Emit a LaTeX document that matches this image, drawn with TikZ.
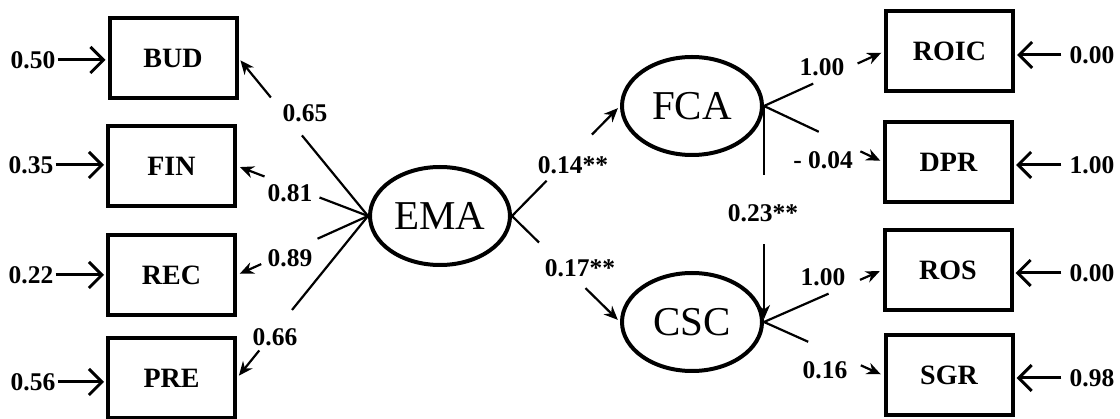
\documentclass[tikz,border=0pt]{standalone}
\usepackage{fontspec}
\setmainfont{Liberation Serif}
\usetikzlibrary{arrows.meta,calc,shapes.geometric}
\begin{document}
\begin{tikzpicture}[x=1pt,y=-1pt,
  obs/.style={draw,line width=4pt,minimum width=127pt,minimum height=80pt,inner sep=0pt,
    font=\fontsize{28}{30}\selectfont\bfseries},
  lat/.style={draw,ellipse,line width=4pt,minimum width=140pt,minimum height=98pt,inner sep=0pt,
    font=\fontsize{41}{43}\selectfont},
  num/.style={inner sep=2pt,font=\fontsize{25.5}{27}\selectfont\bfseries},
  conn/.style={line width=2.2pt},
  connarr/.style={line width=2.2pt,-{Stealth[length=14pt,width=12pt]},shorten >=3pt},
  ext/.style={line width=3pt,-{Straight Barb[length=13pt,width=26pt,line width=3pt]},shorten >=2pt}
]
\useasboundingbox (0,0) rectangle (1120,419);
% observed (left)
\node[obs] (BUD) at (173,58) {BUD};
\node[obs] (FIN) at (171.5,166) {FIN};
\node[obs] (REC) at (171.5,275) {REC};
\node[obs] (PRE) at (171.5,378) {PRE};
% observed (right)
\node[obs] (ROIC) at (949.5,51.5) {ROIC};
\node[obs] (DPR) at (948.5,162) {DPR};
\node[obs] (ROS) at (948,270) {ROS};
\node[obs] (SGR) at (949,375.5) {SGR};
% latent
\node[lat] (EMA) at (440,216) {EMA};
\node[lat] (FCA) at (692,106) {FCA};
\node[lat] (CSC) at (692,322) {CSC};
% error terms left
\node[num] (e1) at (33,60) {0.50};
\node[num] (e2) at (31,165) {0.35};
\node[num] (e3) at (31,275) {0.22};
\node[num] (e4) at (33,382) {0.56};
\draw[ext] (e1.east) -- (e1.east -| BUD.west);
\draw[ext] (e2.east) -- (e2.east -| FIN.west);
\draw[ext] (e3.east) -- (e3.east -| REC.west);
\draw[ext] (e4.east) -- (e4.east -| PRE.west);
% error terms right
\node[num] (r1) at (1092,55) {0.00};
\node[num] (r2) at (1092,165) {1.00};
\node[num] (r3) at (1092,273) {0.00};
\node[num] (r4) at (1092,378) {0.98};
\draw[ext,shorten <=6pt] (r1.west) -- (r1.west -| ROIC.east);
\draw[ext,shorten <=6pt] (r2.west) -- (r2.west -| DPR.east);
\draw[ext,shorten <=6pt] (r3.west) -- (r3.west -| ROS.east);
\draw[ext,shorten <=6pt] (r4.west) -- (r4.west -| SGR.east);
% loadings EMA
\draw[conn] (EMA.west) -- ($(EMA.west)!0.51!(BUD.east)$);
\draw[connarr] ($(EMA.west)!0.75!(BUD.east)$) -- (BUD.east);
\node[num] (l1) at (305,113) {0.65};
\draw[conn] (EMA.west) -- ($(EMA.west)!0.37!(FIN.east)$);
\draw[connarr] ($(EMA.west)!0.79!(FIN.east)$) -- (FIN.east);
\node[num] (l2) at (290,193) {0.81};
\draw[conn] (EMA.west) -- ($(EMA.west)!0.385!(REC.east)$);
\draw[connarr] ($(EMA.west)!0.815!(REC.east)$) -- (REC.east);
\node[num] (l3) at (290,258) {0.89};
\draw[conn] (EMA.west) -- ($(EMA.west)!0.58!(PRE.east)$);
\draw[connarr] ($(EMA.west)!0.83!(PRE.east)$) -- (PRE.east);
\node[num] (l4) at (275,337) {0.66};
% structural paths
\draw[conn] (EMA.east) -- ($(EMA.east)!0.32!(FCA.west)$);
\draw[connarr] ($(EMA.east)!0.74!(FCA.west)$) -- (FCA.west);
\node[num] (p1) at (573,165) {0.14**};
\draw[conn] (EMA.east) -- ($(EMA.east)!0.25!(CSC.west)$);
\draw[connarr] ($(EMA.east)!0.68!(CSC.west)$) -- (CSC.west);
\node[num] (p2) at (580,268) {0.17**};
\draw[conn] (FCA.east) -- ($(FCA.east)!0.32!(CSC.east)$);
\draw[connarr] ($(FCA.east)!0.64!(CSC.east)$) -- (CSC.east);
\node[num] (p3) at (763,213) {0.23**};
% loadings FCA / CSC
\draw[conn] (FCA.east) -- ($(FCA.east)!0.41!(ROIC.west)$);
\draw[connarr] ($(FCA.east)!0.78!(ROIC.west)$) -- (ROIC.west);
\node[num] (m1) at (822,67) {1.00};
\draw[conn] (FCA.east) -- ($(FCA.east)!0.46!(DPR.west)$);
\draw[connarr] ($(FCA.east)!0.81!(DPR.west)$) -- (DPR.west);
\node[num] (m2) at (823,160) {- 0.04};
\draw[conn] (CSC.east) -- ($(CSC.east)!0.545!(ROS.west)$);
\draw[connarr] ($(CSC.east)!0.81!(ROS.west)$) -- (ROS.west);
\node[num] (m3) at (823,277) {1.00};
\draw[conn] (CSC.east) -- ($(CSC.east)!0.37!(SGR.west)$);
\draw[connarr] ($(CSC.east)!0.81!(SGR.west)$) -- (SGR.west);
\node[num] (m4) at (825,370) {0.16};
\end{tikzpicture}
\end{document}
